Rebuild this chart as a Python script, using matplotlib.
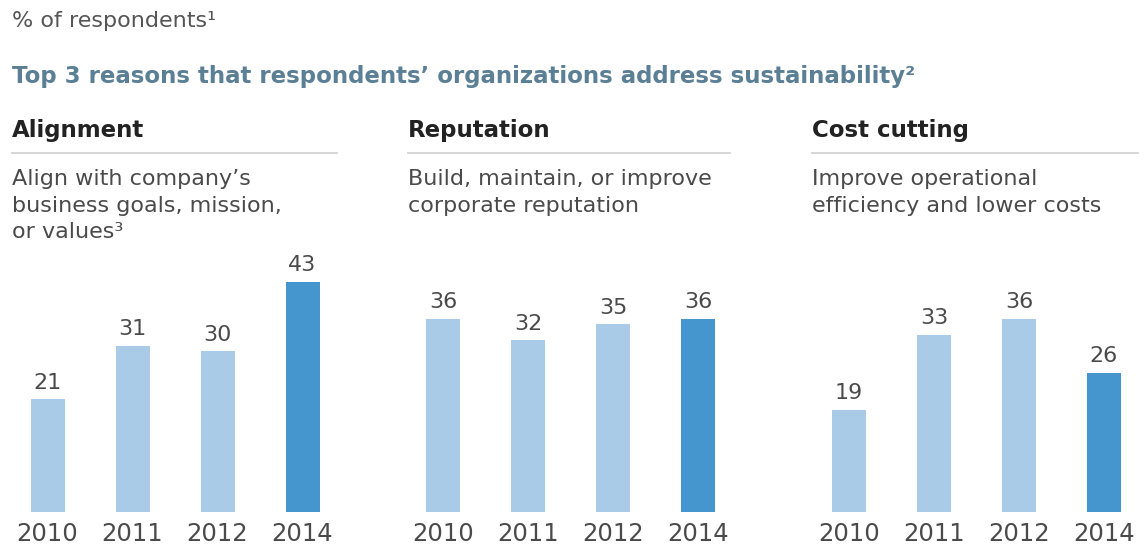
import matplotlib.pyplot as plt
from matplotlib.lines import Line2D

W, H = 1144, 546

years = ['2010', '2011', '2012', '2014']
headers = ['Alignment', 'Reputation', 'Cost cutting']
descriptions = [
    ['Align with company\u2019s', 'business goals, mission,', 'or values\u00b3'],
    ['Build, maintain, or improve', 'corporate reputation'],
    ['Improve operational', 'efficiency and lower costs'],
]
alignment = [21, 31, 30, 43]
reputation = [36, 32, 35, 36]
cost_cutting = [19, 33, 36, 26]

light = '#a9cbe8'
dark = '#4595cf'
grey = '#4a4a4a'


def px(x, y):
    # figure fraction from pixel position (origin top-left)
    return x / W, 1 - y / H


fig = plt.figure(figsize=(W / 100, H / 100), dpi=100)
plt.rcParams['font.family'] = ['DejaVu Sans']

fig.text(*px(12, 21), '% of respondents\u00b9', fontsize=16, color='#555555', va='center')
fig.text(*px(12, 77),
         'Top 3 reasons that respondents\u2019 organizations address sustainability\u00b2',
         fontsize=16.5, fontweight='bold', color='#5b7f95', va='center')

panels = [alignment, reputation, cost_cutting]
text_left = [12, 408, 812]
rule_right = [337, 730, 1138]
axes_left = [5, 400.5, 806.5]

for k, values in enumerate(panels):
    x0 = text_left[k]
    fig.text(*px(x0, 131), headers[k], fontsize=16.5, fontweight='bold',
             color='#222222', va='center')
    fig.add_artist(Line2D([x0 / W, rule_right[k] / W], [1 - 153 / H, 1 - 153 / H],
                          color='#cfcfcf', lw=1.2))
    for j, line in enumerate(descriptions[k]):
        fig.text(*px(x0, 179 + 26.5 * j), line, fontsize=16, color=grey, va='center')

    ax = fig.add_axes([axes_left[k] / W, (H - 512) / H, 340 / W, 268 / H])
    colors = [light, light, light, dark]
    xs = range(len(years))
    ax.bar(xs, values, width=0.4, color=colors)
    for i, v in zip(xs, values):
        ax.annotate(str(v), (i, v), xytext=(0, 12), textcoords='offset points',
                    ha='center', va='center', fontsize=16, color=grey)
    ax.set_xlim(-0.5, 3.5)
    ax.set_ylim(0, 50)
    ax.set_xticks(list(xs))
    ax.set_xticklabels(years, fontsize=17.5, color=grey)
    ax.tick_params(axis='x', length=0, pad=7)
    ax.set_yticks([])
    for s in ax.spines.values():
        s.set_visible(False)
    ax.patch.set_alpha(0)

fig.savefig('out.png', dpi=100)
